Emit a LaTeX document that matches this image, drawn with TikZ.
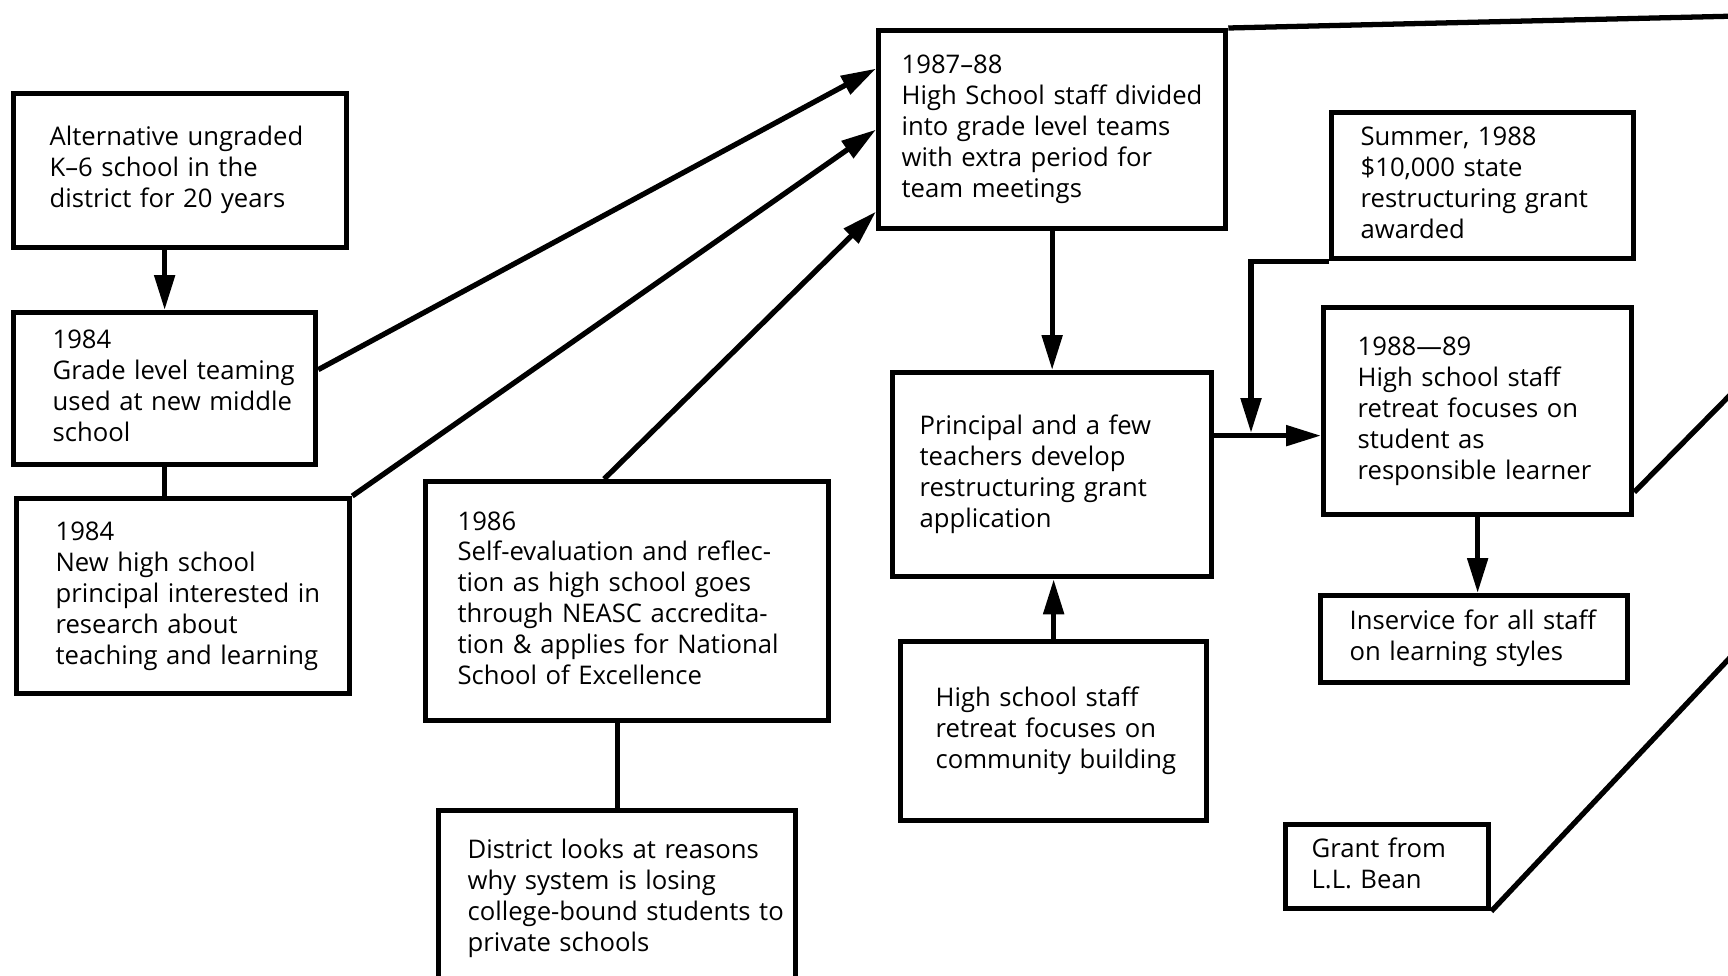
\documentclass[tikz,border=0pt]{standalone}
\usepackage{fontspec}
\setmainfont{Open Sans}
\usetikzlibrary{arrows.meta}
\usetikzlibrary{calc}

\newcommand{\boxtext}[1]{\noindent\begin{tabular}{@{}l@{}}#1\end{tabular}}

\tikzset{
  event/.style={draw, line width=1.5pt, anchor=north west, align=left, inner ysep=0pt,
    font=\fontsize{7.3}{8.8}\selectfont},
  link/.style={line width=1.5pt},
  arrow/.style={link, -{Triangle[length=3.5mm,width=2mm]}}
}

\begin{document}
\begin{tikzpicture}[x=0.1mm, y=-0.1mm]

  \useasboundingbox (0,0) rectangle (1728,975);

  % left column
  \node [event, text width=26.1mm, inner xsep=3.6mm, minimum height=15.4mm] (alt) at (11,91)
    {\boxtext{Alternative ungraded\\K--6 school in the\\district for 20 years}};
  \node [event, text width=22.4mm, inner xsep=3.9mm, minimum height=15.2mm] (grade) at (11,310)
    {\boxtext{1984\\Grade level teaming\\used at new middle\\school}};
  \node [event, text width=25.5mm, inner xsep=3.9mm, minimum height=19.5mm] (newhs) at (14,496)
    {\boxtext{1984\\New high school\\principal interested in\\research about\\teaching and learning}};

  % middle
  \node [event, text width=33.9mm, inner xsep=3.2mm, minimum height=23.9mm] (self) at (423,479)
    {\boxtext{1986\\Self-evaluation and reflec-\\tion as high school goes\\through NEASC accredita-\\tion \& applies for National\\School of Excellence}};
  \node [event, text width=29.9mm, inner xsep=2.9mm, minimum height=17.6mm] (district) at (436,808)
    {\boxtext{District looks at reasons\\why system is losing\\college-bound students to\\private schools}};

  \node [event, text width=30.1mm, inner xsep=2.3mm, minimum height=19.8mm] (team) at (876,28)
    {\boxtext{1987--88\\High School staff divided\\into grade level teams\\with extra period for\\team meetings}};
  \node [event, text width=26.5mm, inner xsep=2.7mm, minimum height=20.4mm] (apply) at (890,370)
    {\boxtext{Principal and a few\\teachers develop\\restructuring grant\\application}};
  \node [event, text width=23.6mm, inner xsep=3.5mm, minimum height=17.9mm] (community) at (898,639)
    {\boxtext{High school staff\\retreat focuses on\\community building}};

  % right column
  \node [event, text width=24.4mm, inner xsep=2.9mm, minimum height=14.6mm] (award) at (1329,110)
    {\boxtext{Summer, 1988\\\$10,000 state\\restructuring grant\\awarded}};
  \node [event, text width=24.0mm, inner xsep=3.4mm, minimum height=20.7mm] (retreat) at (1321,305)
    {\boxtext{1988---89\\High school staff\\retreat focuses on\\student as\\responsible learner}};
  \node [event, text width=24.9mm, inner xsep=2.9mm, minimum height=8.7mm] (inservice) at (1318,593)
    {\boxtext{Inservice for all staff\\on learning styles}};
  \node [event, text width=15.1mm, inner xsep=2.6mm, minimum height=8.4mm] (bean) at (1283,822)
    {\boxtext{Grant from\\L.L. Bean}};

  % connectors
  \draw [arrow] (alt.south -| grade.north) -- (grade.north);
  \draw [link] (grade.south) -- (grade.south |- newhs.north);
  \draw [arrow] ([yshift=1.9mm]grade.east) -- ([yshift=6.1mm]team.west);
  \draw [arrow] (newhs.north east) -- (team.west);
  \draw [arrow] ([xshift=-2.3mm]self.north) -- ([yshift=-8.2mm]team.west);
  \draw [link] (self.south -| district.north) -- (district.north);

  \draw [arrow] (team.south -| apply.north) -- (apply.north);
  \draw [arrow] (community.north) -- (community.north |- apply.south);
  \draw [arrow] ([yshift=3.9mm]apply.east) -- ([yshift=3.9mm]apply.east -| retreat.west);
  \coordinate (join) at (1251,433);
  \draw [arrow] (award.south west) -| (join);
  \draw [arrow] (retreat.south) -- (retreat.south |- inservice.north);

  % lines running off the page
  \coordinate (topend) at (1740,16);
  \coordinate (midend) at (1740,385);
  \coordinate (lowend) at (1740,647);
  \draw [link] (team.north east) -- (topend);
  \draw [link] ([yshift=-8.1mm]retreat.east) -- (midend);
  \draw [link] (bean.south east) -- (lowend);

\end{tikzpicture}
\end{document}
